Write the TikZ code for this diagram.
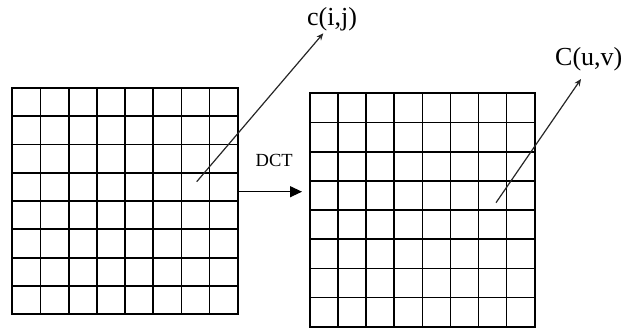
\documentclass[tikz,border=0pt]{standalone}
\usepackage{fontspec}
\setmainfont{Liberation Serif}
\usetikzlibrary{arrows.meta, calc, positioning}

\begin{document}
\begin{tikzpicture}[x=1pt, y=-1pt,
  gridbox/.style={rectangle, draw, line width=1.7pt,
                  inner sep=0pt, outer sep=0pt},
  cellline/.style={line width=1.7pt},
  ptrarr/.style={-{Stealth[length=7pt, width=6pt]}, line width=1.2pt, color=black!85},
  dctarr/.style={-{Triangle[length=12pt, width=11pt]}, line width=1.3pt},
  lbl/.style={inner sep=0pt, font=\fontsize{26pt}{30pt}\selectfont},
  oplbl/.style={inner sep=0pt, font=\fontsize{18.5pt}{22pt}\selectfont}
]
\useasboundingbox (0,0) rectangle (624,335);

%% --- SPATIAL BLOCK (left 8x8) ---
\node[gridbox, minimum width=225.4pt, minimum height=226.6pt] (spatial) at (125,201) {};

%% --- DCT BLOCK (right 8x8) ---
\node[gridbox, minimum width=224.7pt, minimum height=233.4pt] (freq) at (422.35,210) {};

%% --- CELL LINES ---
\foreach \blk in {spatial, freq} {
  \foreach \k in {1,...,7} {
    \draw[cellline] ($(\blk.north west)!\k/8!(\blk.north east)$)
                 -- ($(\blk.south west)!\k/8!(\blk.south east)$);
    \draw[cellline] ($(\blk.north west)!\k/8!(\blk.south west)$)
                 -- ($(\blk.north east)!\k/8!(\blk.south east)$);
  }
}

%% --- LABELS ---
\node[lbl, anchor=base west] (cij) at (307,25) {c(i,j)};
\node[lbl, anchor=base west] (cuv) at (555,65.5) {C(u,v)};

%% --- POINTERS ---
\coordinate (pixel) at (196.7,181.7);
\coordinate (coef)  at (496,202.7);
\coordinate (ciptr) at (323.3,33.3);
\coordinate (cuptr) at (581,79);

\draw[ptrarr] (pixel) -- (ciptr);
\draw[ptrarr] (coef) -- (cuptr);

%% --- TRANSFORM ARROW ---
\draw[dctarr, shorten >=8pt]
      ([yshift=9.3pt]spatial.east) -- ([yshift=9.3pt]spatial.east -| freq.west);
\node[oplbl, anchor=base west] (dct) at (255.5,166) {DCT};

\end{tikzpicture}
\end{document}
